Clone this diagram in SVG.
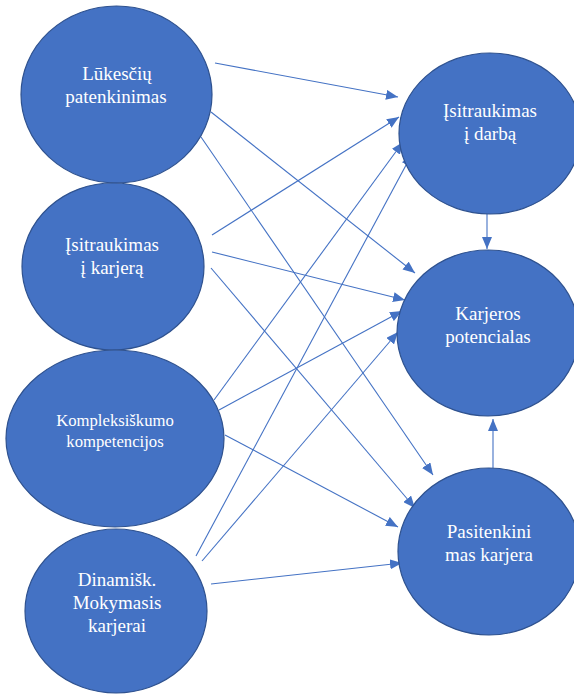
<svg xmlns="http://www.w3.org/2000/svg" width="574" height="694" viewBox="0 0 574 694">
  <style>
    .node ellipse { fill: #4472C4; stroke: #2F528F; stroke-width: 1.2; }
    .node text { fill: #FFFFFF; font-family: 'Liberation Serif', 'Times New Roman', 'DejaVu Serif', serif; font-size: 19px; text-anchor: middle; }
    .node text.small { font-size: 16.7px; }
    .edge { stroke: #4472C4; stroke-width: 1.1; fill: none; marker-end: url(#arrow); }
  </style>
  <defs>
    <marker id="arrow" markerUnits="userSpaceOnUse" viewBox="0 0 12 10" refX="12" refY="5" markerWidth="12" markerHeight="10" orient="auto">
      <path d="M0,0 L12,5 L0,10 Z" fill="#4472C4"/>
    </marker>
  </defs>
  <rect width="574" height="694" fill="#FFFFFF"/>

  <!-- connectors are drawn first so the ellipses sit on top of them -->
  <g id="connectors">
    <line class="edge" x1="215" y1="63" x2="398" y2="97"/>
    <line class="edge" x1="211" y1="112" x2="415" y2="273"/>
    <line class="edge" x1="201" y1="137" x2="433" y2="475"/>
    <line class="edge" x1="212" y1="235" x2="399" y2="117"/>
    <line class="edge" x1="212" y1="252" x2="405" y2="300"/>
    <line class="edge" x1="211" y1="268" x2="415" y2="508"/>
    <line class="edge" x1="214" y1="400" x2="403" y2="142"/>
    <line class="edge" x1="219" y1="410" x2="402" y2="311"/>
    <line class="edge" x1="225" y1="435" x2="398" y2="527"/>
    <line class="edge" x1="196" y1="556" x2="412" y2="154"/>
    <line class="edge" x1="202" y1="561" x2="398" y2="332"/>
    <line class="edge" x1="211" y1="584" x2="402" y2="563"/>
    <line class="edge" x1="487" y1="214" x2="487" y2="249"/>
    <line class="edge" x1="493" y1="468" x2="493" y2="419"/>
  </g>

  <g id="lukesciu-patenkinimas" class="node">
    <ellipse cx="116.5" cy="94.5" rx="95.5" ry="88.5"/>
    <text x="117" y="80">Lūkesčių</text>
    <text x="116" y="103">patenkinimas</text>
  </g>

  <g id="isitraukimas-i-karjera" class="node">
    <ellipse cx="113" cy="266.5" rx="91" ry="83.5"/>
    <text x="112" y="251">Įsitraukimas</text>
    <text x="112" y="274">į karjerą</text>
  </g>

  <g id="kompleksiskumo-kompetencijos" class="node">
    <ellipse cx="115" cy="438.5" rx="109" ry="88.5"/>
    <text class="small" x="115" y="426">Kompleksiškumo</text>
    <text class="small" x="115" y="447">kompetencijos</text>
  </g>

  <g id="dinamisk-mokymasis" class="node">
    <ellipse cx="116" cy="611" rx="91" ry="82"/>
    <text x="117" y="586">Dinamišk.</text>
    <text x="117" y="609">Mokymasis</text>
    <text x="117" y="632">karjerai</text>
  </g>

  <g id="isitraukimas-i-darba" class="node">
    <ellipse cx="490" cy="133.5" rx="91" ry="80.5"/>
    <text x="490" y="117">Įsitraukimas</text>
    <text x="490" y="140">į darbą</text>
  </g>

  <g id="karjeros-potencialas" class="node">
    <ellipse cx="488" cy="333" rx="91" ry="83"/>
    <text x="488" y="320">Karjeros</text>
    <text x="488" y="343">potencialas</text>
  </g>

  <g id="pasitenkinimas-karjera" class="node">
    <ellipse cx="489" cy="551.5" rx="91" ry="83.5"/>
    <text x="489" y="538">Pasitenkini</text>
    <text x="489" y="561">mas karjera</text>
  </g>
</svg>
